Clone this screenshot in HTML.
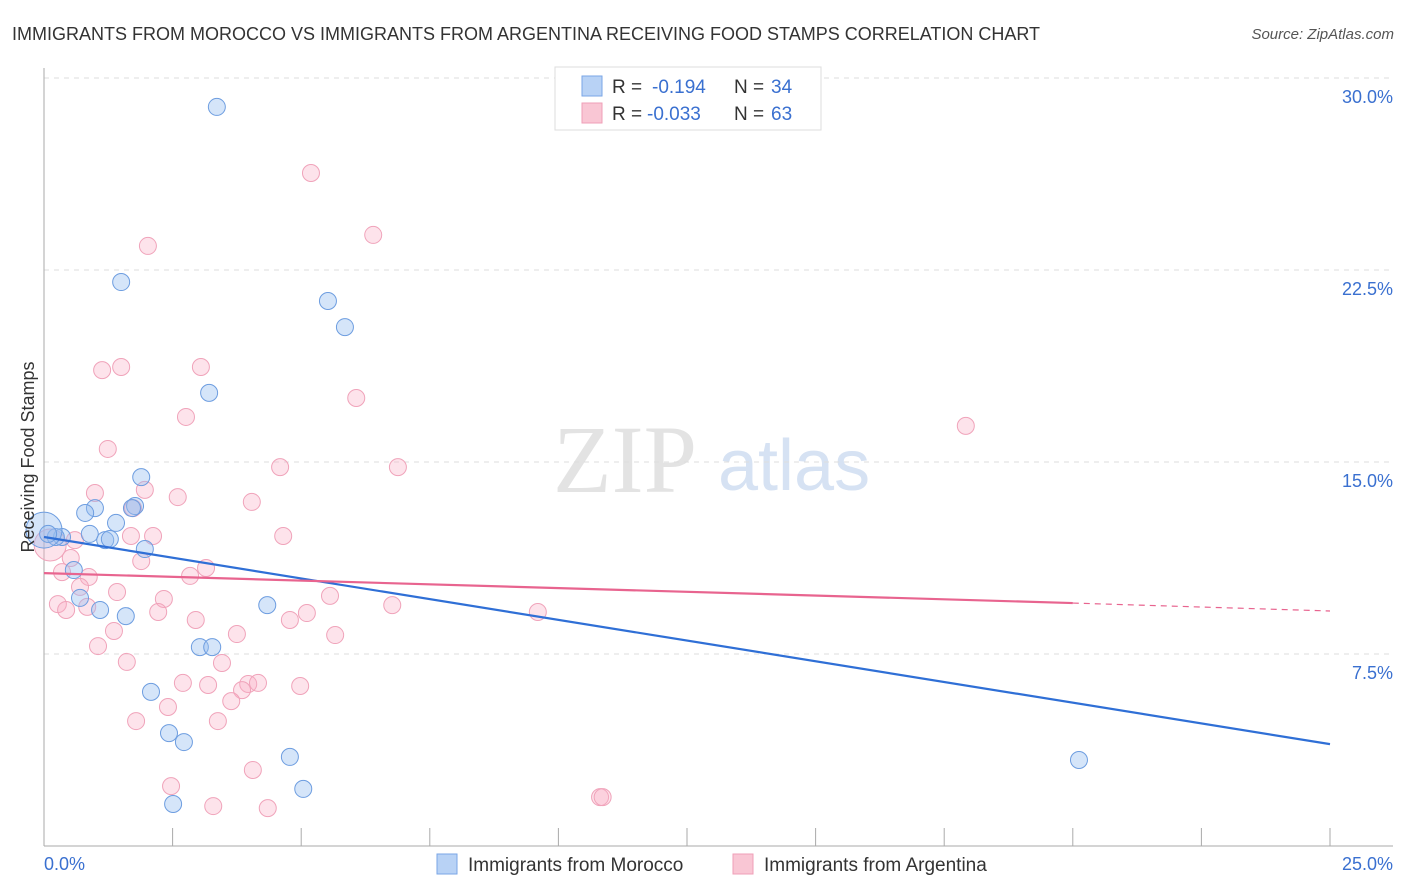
<!DOCTYPE html>
<html><head><meta charset="utf-8"><style>
body{margin:0;background:#fff;font-family:"Liberation Sans",sans-serif}
svg{display:block}
</style></head><body>
<svg id="chart" width="1406" height="892" xmlns="http://www.w3.org/2000/svg" font-family="Liberation Sans, sans-serif">
<text x="12" y="40" font-size="18" fill="#333">IMMIGRANTS FROM MOROCCO VS IMMIGRANTS FROM ARGENTINA RECEIVING FOOD STAMPS CORRELATION CHART</text>
<text x="1394" y="39" font-size="15" fill="#555" font-style="italic" text-anchor="end">Source: ZipAtlas.com</text>
<g>
<text x="553" y="492" font-family="Liberation Serif, serif" font-size="96" fill="#e3e3e3">ZIP</text>
<text x="718" y="490" font-size="72" fill="#d6e2f3">atlas</text>
</g>
<g id="grid"></g>
<g id="axes"></g>
<g id="marks"></g>
<text transform="translate(34,457) rotate(-90)" font-size="18" fill="#333" text-anchor="middle">Receiving Food Stamps</text>
<g>
<rect x="555" y="67" width="266" height="63" fill="#fff" stroke="#ddd"/>
<rect x="582" y="76" width="20" height="20" fill="#b8d2f5" stroke="#7aa6e6"/>
<text x="612" y="93" font-size="19" fill="#333">R = </text><text x="652" y="93" font-size="19" fill="#3a70d0">-0.194</text>
<text x="734" y="93" font-size="19" fill="#333">N = </text><text x="771" y="93" font-size="19" fill="#3a70d0">34</text>
<rect x="582" y="103" width="20" height="20" fill="#f9c6d4" stroke="#ef9fb7"/>
<text x="612" y="120" font-size="19" fill="#333">R = </text><text x="647" y="120" font-size="19" fill="#3a70d0">-0.033</text>
<text x="734" y="120" font-size="19" fill="#333">N = </text><text x="771" y="120" font-size="19" fill="#3a70d0">63</text>
</g>
<g>
<rect x="437" y="854" width="20" height="20" fill="#b8d2f5" stroke="#7aa6e6"/>
<text x="468" y="871" font-size="19" fill="#333">Immigrants from Morocco</text>
<rect x="733" y="854" width="20" height="20" fill="#f9c6d4" stroke="#ef9fb7"/>
<text x="764" y="871" font-size="19" fill="#333">Immigrants from Argentina</text>
</g>
</svg>
<script>
const yTicks=[7.5,15,22.5,30];
const yTickLabels=["7.5%","15.0%","22.5%","30.0%"];
const xTicks=[0,2.5,5,7.5,10,12.5,15,17.5,20,22.5,25];
const moroccoX=[3.36,1.50,5.52,5.85,3.21,1.89,1.77,1.71,0.99,0.80,1.40,0.89,0.35,0.23,1.19,1.28,1.96,0.58,0.70,1.09,1.59,4.34,3.03,3.27,2.08,2.43,2.72,4.78,2.51,5.04,20.12,0,0.08];
const moroccoY=[28.87,22.03,21.29,20.27,17.70,14.41,13.28,13.20,13.20,13.01,12.62,12.19,12.07,12.07,11.95,11.99,11.60,10.78,9.69,9.22,8.98,9.41,7.77,7.77,6.02,4.41,4.06,3.48,1.64,2.23,3.36,12.34,12.19];
const argX=[5.19,2.02,6.40,1.13,1.50,3.05,2.76,6.07,17.92,1.24,4.59,6.88,0.99,1.96,2.60,4.04,1.73,2.12,1.69,4.65,0.12,0.60,0.52,1.89,3.15,2.84,0.87,0.35,0.70,1.42,2.33,5.56,0.27,0.43,0.84,2.22,2.95,5.11,4.78,6.77,9.60,1.36,3.75,5.66,1.05,3.46,1.61,2.70,3.19,3.97,4.16,4.98,3.85,3.64,2.41,1.79,3.38,4.06,2.47,3.29,4.35,10.81,10.86];
const argY=[26.29,23.44,23.87,18.59,18.71,18.71,16.76,17.50,16.41,15.51,14.80,14.80,13.79,13.91,13.63,13.44,13.20,12.11,12.11,12.11,11.76,11.95,11.25,11.13,10.86,10.55,10.51,10.70,10.12,9.92,9.65,9.77,9.45,9.22,9.34,9.14,8.83,9.10,8.83,9.41,9.14,8.40,8.28,8.24,7.81,7.15,7.19,6.37,6.29,6.33,6.37,6.25,6.09,5.66,5.43,4.88,4.88,2.97,2.34,1.56,1.48,1.91,1.91];
const moroccoTrend=[12.07,3.98];
const argTrend=[10.66,9.49,9.18];
const X=v=>44+v*51.44, Y=v=>846-v*25.6;
const NS="http://www.w3.org/2000/svg";
function mk(parent,tag,attrs){const e=document.createElementNS(NS,tag);for(const k in attrs)e.setAttribute(k,attrs[k]);document.getElementById(parent).appendChild(e);return e;}
yTicks.forEach((t,i)=>{
 const l=mk('grid','line',{x1:44,x2:1393,y1:Y(t),y2:Y(t),stroke:'#ddd','stroke-dasharray':'5,5'});
 
 
 const tx=mk('grid','text',{x:1393,y:Y(t)+25,'font-size':18,fill:'#3a70d0','text-anchor':'end'});
 tx.textContent=yTickLabels[i];
 
 
});
let a=mk('axes','line',{x1:44,x2:44,y1:68,y2:846,stroke:'#aaa'});


a=mk('axes','line',{x1:44,x2:1393,y1:846,y2:846,stroke:'#aaa'});


xTicks.forEach(t=>{const l=mk('axes','line',{x1:X(t),x2:X(t),y1:828,y2:846,stroke:'#aaa'});
 
 });
let t0=mk('axes','text',{x:44,y:870,'font-size':18,fill:'#3a70d0'});t0.textContent='0.0%';


let t1=mk('axes','text',{x:1393,y:870,'font-size':18,fill:'#3a70d0','text-anchor':'end'});t1.textContent='25.0%';


argX.forEach((x,i)=>{const c=mk('marks','circle',{cx:X(x),cy:Y(argY[i]),r:i==20?16:8.5,fill:'rgba(248,175,198,0.35)',stroke:'#f0a3ba','stroke-width':1});
 
 });
moroccoX.forEach((x,i)=>{const c=mk('marks','circle',{cx:X(x),cy:Y(moroccoY[i]),r:i==31?18:8.5,fill:'rgba(150,190,240,0.4)',stroke:'#6d9de0','stroke-width':1});
 
 });
let b=mk('marks','line',{x1:X(0),y1:Y(moroccoTrend[0]),x2:X(25),y2:Y(moroccoTrend[1]),stroke:'#2f6fd6','stroke-width':2.2});


let p=mk('marks','line',{x1:X(0),y1:Y(argTrend[0]),x2:X(20),y2:Y(argTrend[1]),stroke:'#e8648f','stroke-width':2.2});


let pd=mk('marks','line',{x1:X(20),y1:Y(argTrend[1]),x2:X(25),y2:Y(argTrend[2]),stroke:'#e8648f','stroke-width':1.2,'stroke-dasharray':'6,5'});


</script>
</body></html>
